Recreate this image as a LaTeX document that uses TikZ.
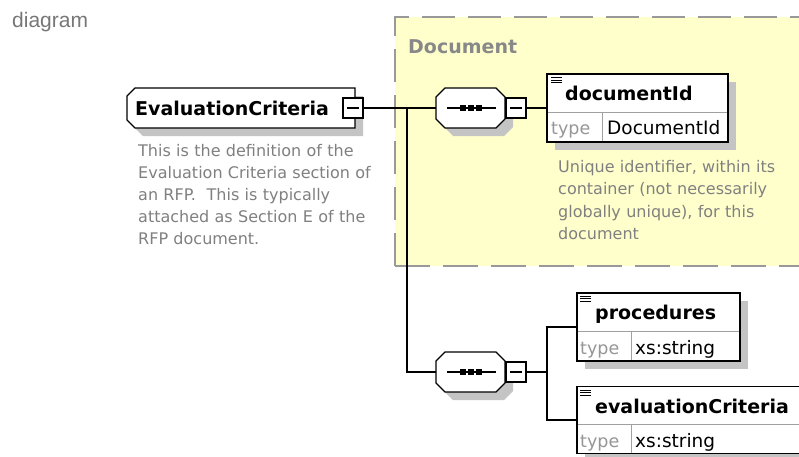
\documentclass[tikz,border=0pt]{standalone}
\usepackage{fontspec}
\setmainfont{DejaVu Sans}
\newfontfamily\arialf{Liberation Sans}
\usetikzlibrary{calc}
\definecolor{docfill}{RGB}{255,255,204}
\definecolor{dashgray}{RGB}{153,153,153}
\definecolor{shadowgray}{RGB}{196,196,196}
\definecolor{descgray}{RGB}{128,128,128}
\definecolor{typegray}{RGB}{150,150,150}
\definecolor{titlegray}{RGB}{136,136,136}
\definecolor{sepgray}{RGB}{160,160,160}
\begin{document}
\begin{tikzpicture}[x=1pt,y=-1pt,line join=miter,
  conn/.style={draw=black,line width=1.3pt},
  frame/.style={draw=black,line width=1.3pt,fill=white},
  hole/.style={inner sep=0pt,outer sep=0pt},
  minusbox/.style={draw=black,line width=1.3pt,fill=white,inner sep=0pt,minimum size=20pt,
    path picture={\draw[line width=1.3pt] ($(path picture bounding box.west)+(4,0)$) -- ($(path picture bounding box.east)+(-4,0)$);}},
  elname/.style={anchor=base west,inner sep=0pt,font=\bfseries\fontsize{19}{22}\selectfont},
  typelbl/.style={anchor=base west,inner sep=0pt,text=typegray,font=\fontsize{17.5}{20}\selectfont},
  typeval/.style={anchor=base west,inner sep=0pt,font=\fontsize{18.5}{20}\selectfont},
  desc/.style={anchor=base west,inner sep=0pt,text=descgray,align=left,text width=260pt,font=\fontsize{16}{22.2}\selectfont},
  seqshape/.pic={
    \fill[shadowgray] (-17.5,-12) -- (33.5,-12) -- (42.5,-3) -- (42.5,19) -- (33.5,28) -- (-17.5,28) -- (-26.5,19) -- (-26.5,-3) -- cycle;
    \filldraw[frame] (-25.5,-20) -- (25.5,-20) -- (34.5,-11) -- (34.5,11) -- (25.5,20) -- (-25.5,20) -- (-34.5,11) -- (-34.5,-11) -- cycle;
    \node[hole,minimum width=69pt,minimum height=40pt] (-b) at (0,0) {};
    \draw[line width=1.3pt] (-23.5,0) -- (25.5,0);
    \fill (-10.5,-3) rectangle (-4.5,3);
    \fill (-2.5,-3) rectangle (3.5,3);
    \fill (5.5,-3) rectangle (11.5,3);
  },
  iconlines/.pic={
    \draw[line width=1pt] (0,0) -- (11,0) (0,2.7) -- (11,2.7) (0,5.4) -- (11,5.4);
  }
]
\useasboundingbox (0,0) rectangle (799,456);
\clip (0,0) rectangle (799,456);
\fill[white] (0,0) rectangle (799,456);

% caption
\node[anchor=base west,inner sep=0pt,text={rgb,255:red,119;green,119;blue,119},font=\arialf\fontsize{21}{24}\selectfont] (cap) at (12,27) {diagram};

% Document group
\fill[docfill] (395,17) rectangle (860,266);
\draw[dashgray,line width=1.5pt,dash pattern=on 33pt off 13pt] (395,266) -- (395,17) -- (860,17);
\draw[dashgray,line width=1.5pt,dash pattern=on 35pt off 13pt] (395,266) -- (860,266);
\node[elname,text=titlegray] (grp) at (408,53) {Document};

% connector junctions
\coordinate (j1) at (407,108);
\coordinate (j2) at (547,372);

% EvaluationCriteria element
\fill[shadowgray] (143,96) -- (363,96) -- (363,136) -- (143,136) -- (135,128) -- (135,104) -- cycle;
\filldraw[frame] (135,88) -- (355,88) -- (355,128) -- (135,128) -- (127,120) -- (127,96) -- cycle;
\node[hole,minimum width=228pt,minimum height=40pt] (ec) at (241,108) {};
\node[elname] (ectext) at (135,115) {EvaluationCriteria};
\node[minusbox] (ecm) at (353,108) {};
\node[desc] (ecdesc) at (138,156) {This is the definition of the\\Evaluation Criteria section of\\an RFP.\ \ This is typically\\attached as Section E of the\\RFP document.};

% sequences
\pic (s1) at (470.5,108) {seqshape};
\node[minusbox] (s1m) at (516,108) {};
\pic (s2) at (470.5,372) {seqshape};
\node[minusbox] (s2m) at (516,372) {};

\draw[conn] (ecm.east) -- (s1-b.west);
\draw[conn] (j1) |- (s2-b.west);

% documentId element
\fill[shadowgray] (555,82) rectangle (736,150);
\node[frame,hole,minimum width=181pt,minimum height=68pt] (doc) at (637.5,108) {};
\draw[sepgray,line width=1pt] ($(doc.north west)+(0.7,38)$) -- ($(doc.north east)+(-0.7,38)$);
\draw[sepgray,line width=1pt] ($(doc.north west)+(55,38)$) -- ($(doc.south west)+(55,-0.7)$);
\pic at (551,77.3) {iconlines};
\node[elname] (docname) at (565,100) {documentId};
\node[typelbl] (doctype) at (551,134) {type};
\node[typeval] (docval) at (607,134) {DocumentId};
\node[desc] (docdesc) at (558,172.7) {Unique identifier, within its\\container (not necessarily\\globally unique), for this\\document};
\draw[conn] (s1m.east) -- (doc.west);

% procedures element
\fill[shadowgray] (585,301) rectangle (748,369);
\node[frame,hole,minimum width=163pt,minimum height=68pt] (proc) at (658.5,327) {};
\draw[sepgray,line width=1pt] ($(proc.north west)+(0.7,38)$) -- ($(proc.north east)+(-0.7,38)$);
\draw[sepgray,line width=1pt] ($(proc.north west)+(54,38)$) -- ($(proc.south west)+(54,-0.7)$);
\pic at (580,296) {iconlines};
\node[elname] (procname) at (595,319) {procedures};
\node[typelbl] (proctype) at (580,354) {type};
\node[typeval] (procval) at (635,354) {xs:string};

% evaluationCriteria element
\fill[shadowgray] (585,394) rectangle (860,461);
\node[frame,hole,minimum width=263pt,minimum height=67pt] (evc) at (708.5,420) {};
\draw[sepgray,line width=1pt] ($(evc.north west)+(0.7,37.5)$) -- ($(evc.north east)+(-0.7,37.5)$);
\draw[sepgray,line width=1pt] ($(evc.north west)+(54,37.5)$) -- ($(evc.south west)+(54,-0.7)$);
\pic at (580,390) {iconlines};
\node[elname] (evcname) at (595,413) {evaluationCriteria};
\node[typelbl] (evctype) at (580,447) {type};
\node[typeval] (evcval) at (635,447) {xs:string};

\draw[conn] (s2m.east) -- (j2);
\draw[conn] (j2) |- (proc.west);
\draw[conn] (j2) |- (evc.west);
\end{tikzpicture}
\end{document}
